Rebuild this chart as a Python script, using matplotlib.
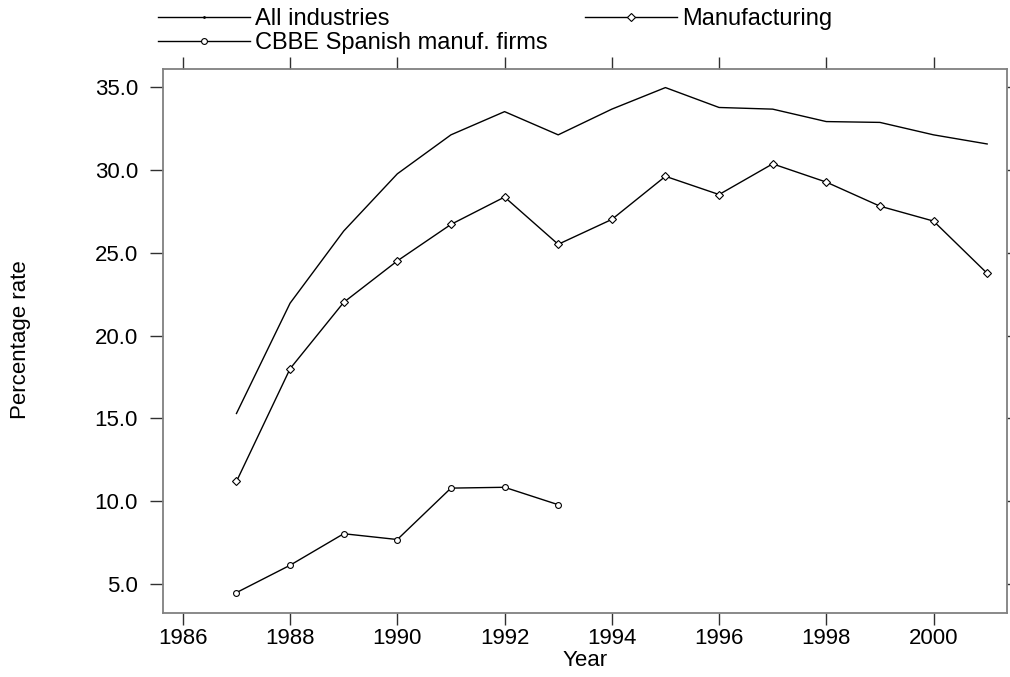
import matplotlib
matplotlib.use("Agg")
import matplotlib.pyplot as plt
from matplotlib.lines import Line2D

plt.rcParams['font.family'] = ['Liberation Sans', 'DejaVu Sans']

years = list(range(1987, 2002))
all_industries = [15.3, 21.95, 26.3, 29.75, 32.1, 33.5, 32.1, 33.65, 34.95, 33.75, 33.65, 32.9, 32.85, 32.1, 31.55]
manufacturing = [11.2, 18.0, 22.0, 24.5, 26.7, 28.35, 25.5, 27.0, 29.6, 28.5, 30.35, 29.25, 27.8, 26.9, 23.75]
cbbe_years = list(range(1987, 1994))
cbbe = [4.5, 6.15, 8.05, 7.7, 10.8, 10.85, 9.8]

xticks = list(range(1986, 2001, 2))
yticks = [5.0, 10.0, 15.0, 20.0, 25.0, 30.0, 35.0]
labels = ["All industries", "Manufacturing", "CBBE Spanish manuf. firms"]

W, H = 1010, 677
fig = plt.figure(figsize=(W / 100, H / 100), dpi=100)
ax = fig.add_axes([163 / W, 1 - 613 / H, (1007 - 163) / W, (613 - 69) / H])

style_all = dict(color='black', lw=1.0)
style_man = dict(color='black', lw=1.0, marker='D', ms=4.2, mfc='white', mec='black', mew=0.8)
style_cb = dict(color='black', lw=1.0, marker='o', ms=4.2, mfc='white', mec='black', mew=0.8)

ax.plot(years, all_industries, **style_all)
ax.plot(years, manufacturing, **style_man)
ax.plot(cbbe_years, cbbe, **style_cb)

ax.set_xlim(1985.63, 2001.37)
ax.set_ylim(3.27, 36.07)
ax.set_xticks(xticks)
ax.set_xticklabels([str(y) for y in xticks])
ax.set_yticks(yticks)
ax.set_yticklabels([f"{v:.1f}" for v in yticks])

for s in ax.spines.values():
    s.set_color('#808080')
    s.set_linewidth(1.3)

ax.tick_params(axis='y', which='major', direction='out', length=9.5, width=1.0,
               color='#303030', labelsize=16, pad=8.5, left=True, right=True)
ax.tick_params(axis='x', which='major', direction='out', length=8.5, width=1.0,
               color='#303030', labelsize=16, pad=2.5, top=True, bottom=True)

ax.set_xlabel("Year", fontsize=16, labelpad=0.5)
fig.text(21 / W, 1 - 340 / H, "Percentage rate", rotation=90, fontsize=16,
         ha='center', va='center')

h_all = Line2D([], [], marker='.', ms=2, **style_all)
h_man = Line2D([], [], **style_man)
h_cb = Line2D([], [], **style_cb)

common = dict(frameon=False, fontsize=17, handlelength=3.9, handletextpad=0.2,
              borderpad=0, borderaxespad=0, labelspacing=0.1, loc='upper left')
fig.legend([h_all, h_cb], [labels[0], labels[2]], bbox_to_anchor=(158 / W, 1 - 8 / H), **common)
fig.legend([h_man], [labels[1]], bbox_to_anchor=(585 / W, 1 - 8 / H), **common)

fig.savefig("out.png", dpi=100)
